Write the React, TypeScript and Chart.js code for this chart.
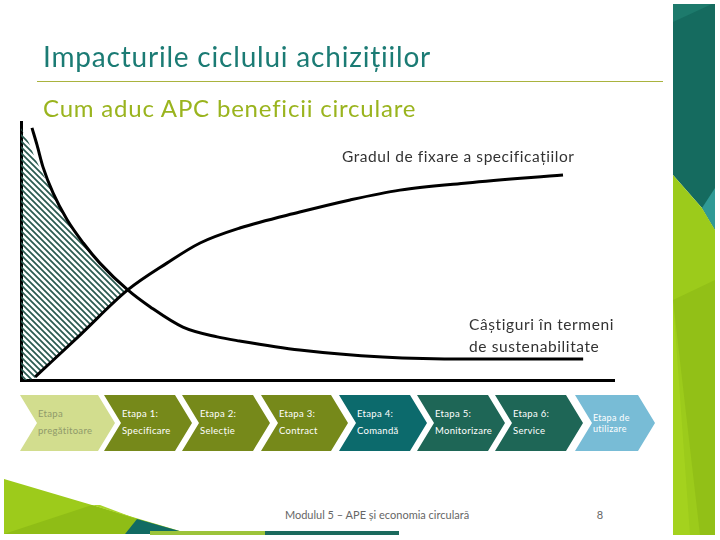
import React, { useEffect, useRef } from "react";
import { Chart, registerables } from "chart.js";

Chart.register(...registerables);

// x: progress through the procurement cycle (0..100), y: relative level (0..100)
const fixationX = [2.4, 9.95, 18.0, 24.6, 30.2, 36.9, 47.0, 55.5, 63.9, 75.2, 91.4];
const fixationY = [1.2, 17.4, 34.9, 45.3, 53.1, 58.9, 65.1, 69.8, 73.6, 76.4, 79.5];

const gainsX = [1.85, 2.7, 3.7, 5.4, 7.8, 10.5, 13.3, 18.0, 21.8, 27.3, 33.1, 36.9, 47.0, 61.0, 75.2, 94.8];
const gainsY = [97.7, 91.1, 82.6, 72.5, 62.0, 53.1, 45.3, 34.9, 28.3, 20.5, 16.7, 15.1, 11.6, 8.9, 8.1, 8.1];

const hatchX = [0, 0.67, 1.35, 2.36, 4.05, 5.73, 7.76, 10.46, 13.32, 15.85, 18.0];
const hatchTopY = [97.7, 94.6, 91.9, 86.0, 78.3, 70.5, 62.0, 53.1, 45.3, 39.5, 34.9];
const hatchBottomY = [0, 0, 0, 0.8, 4.5, 8.1, 12.4, 18.2, 24.6, 30.2, 34.9];

const stageLine1 = ["Etapa", "Etapa 1:", "Etapa 2:", "Etapa 3:", "Etapa 4:", "Etapa 5:", "Etapa 6:", "Etapa de"];
const stageLine2 = ["pregătitoare", "Specificare", "Selecție", "Contract", "Comandă", "Monitorizare", "Service", "utilizare"];
const stageColors = ["#d2dd8e", "#76891a", "#76891a", "#76891a", "#0c6a6c", "#1e6656", "#1e6656", "#78bcd6"];
const stageTextColors = ["#8f9a6a", "#ffffff", "#ffffff", "#ffffff", "#ffffff", "#ffffff", "#ffffff", "#ffffff"];
const stageLeft = [20, 104, 182, 261, 339, 417, 495, 575];
const stageRight = [115, 192, 270, 348, 427, 505, 583, 655];

const toPoints = (xs: number[], ys: number[]) => xs.map((x, i) => ({ x, y: ys[i] }));

function makeHatch(): CanvasPattern | string {
  const s = 6;
  const c = document.createElement("canvas");
  c.width = s;
  c.height = s;
  const g = c.getContext("2d");
  if (!g) return "#2a5a50";
  g.strokeStyle = "#2a5a50";
  g.lineWidth = 1.7;
  g.beginPath();
  g.moveTo(-1, -1);
  g.lineTo(s + 1, s + 1);
  g.moveTo(-1, s - 1);
  g.lineTo(1, s + 1);
  g.moveTo(s - 1, -1);
  g.lineTo(s + 1, 1);
  g.stroke();
  const p = g.createPattern(c, "repeat");
  return p || "#2a5a50";
}

const FONT = "Lato, 'Open Sans', sans-serif";

export default function App() {
  const ref = useRef<HTMLCanvasElement | null>(null);

  useEffect(() => {
    if (!ref.current) return;
    const hatch = makeHatch();
    const axisOpts = {
      type: "linear" as const,
      min: 0,
      max: 100,
      grid: { display: false, drawTicks: false },
      ticks: { display: false },
      border: { display: true, color: "#000000", width: 3 },
    };
    const chart = new Chart(ref.current, {
      type: "line",
      data: {
        datasets: [
          {
            label: "Gradul de fixare a specificațiilor",
            data: toPoints(fixationX, fixationY),
            borderColor: "#000000",
            borderWidth: 3,
            pointRadius: 0,
            tension: 0.4,
            cubicInterpolationMode: "monotone",
            fill: false,
          },
          {
            label: "Câștiguri în termeni de sustenabilitate",
            data: toPoints(gainsX, gainsY),
            borderColor: "#000000",
            borderWidth: 3,
            pointRadius: 0,
            tension: 0.4,
            cubicInterpolationMode: "monotone",
            fill: false,
          },
          {
            label: "hatchTop",
            data: toPoints(hatchX, hatchTopY),
            borderWidth: 0,
            borderColor: "rgba(0,0,0,0)",
            pointRadius: 0,
            tension: 0,
            backgroundColor: hatch as any,
            fill: 3,
          },
          {
            label: "hatchBottom",
            data: toPoints(hatchX, hatchBottomY),
            borderWidth: 0,
            borderColor: "rgba(0,0,0,0)",
            pointRadius: 0,
            tension: 0,
            fill: false,
          },
        ],
      },
      options: {
        animation: false,
        responsive: false,
        maintainAspectRatio: false,
        layout: { padding: { left: 21, right: 106, top: 122, bottom: 160 } },
        plugins: {
          legend: { display: false },
          tooltip: { enabled: false },
        },
        scales: { x: axisOpts, y: axisOpts },
      },
    });
    return () => chart.destroy();
  }, []);

  const chevron = (i: number) => {
    const L = stageLeft[i];
    const R = stageRight[i];
    const D = 17;
    const top = 395;
    const bot = 451;
    const mid = 423;
    const pts = `${L},${top} ${R - D},${top} ${R},${mid} ${R - D},${bot} ${L},${bot} ${L + D},${mid}`;
    const last = i === stageLeft.length - 1;
    return (
      <g key={i}>
        <polygon points={pts} fill={stageColors[i]} />
        <text
          x={L + 18}
          y={last ? 421 : 417}
          fontFamily={FONT}
          fontSize={last ? 9 : 9.5}
          letterSpacing={0.3}
          fill={stageTextColors[i]}
        >
          {stageLine1[i]}
        </text>
        <text
          x={L + 18}
          y={last ? 432 : 434}
          fontFamily={FONT}
          fontSize={last ? 9 : 9.5}
          letterSpacing={0.3}
          fill={stageTextColors[i]}
        >
          {stageLine2[i]}
        </text>
      </g>
    );
  };

  return (
    <div
      style={{
        position: "absolute",
        left: 0,
        top: 0,
        width: 720,
        height: 540,
        overflow: "hidden",
        background: "#ffffff",
        fontFamily: FONT,
      }}
    >
      <svg width={720} height={540} style={{ position: "absolute", left: 0, top: 0 }}>
        {/* right decorative strip */}
        <polygon points="673,4 715,4 715,230 702,208 673,175" fill="#156b5f" />
        <polygon points="673,4 712,4 673,22" fill="#1d7a6c" />
        <polygon points="715,188 715,230 702,208" fill="#2f9a95" />
        <polygon points="673,175 702,208 715,230 715,535 673,535" fill="#9ccb1b" />
        <polygon points="673,300 715,280 715,535 700,535" fill="#92c017" />
        <polygon points="673,300 690,535 673,535" fill="#a4d21e" />
        {/* title rule */}
        <line x1={37} y1={81.5} x2={663} y2={81.5} stroke="#a9b33e" strokeWidth={1} />
        {/* bottom-left decoration */}
        <polygon points="4,479 190,534 4,534" fill="#9dcb1b" />
        <polygon points="4,534 92,505 137,519 125,534" fill="#8fbd16" />
        <polygon points="92,505 100,505 137,519" fill="#a8d428" />
        <polygon points="137,519 190,534 125,534" fill="#116b63" />
        {/* bottom bar */}
        <rect x={150} y={531} width={115} height={4} fill="#9cc43a" />
        <rect x={265} y={531} width={134} height={4} fill="#1b6a5d" />
        {/* stages */}
        {stageLeft.map((_, i) => chevron(i))}
        <text x={377} y={519} textAnchor="middle" fontFamily={FONT} fontSize={11} fill="#666666">
          Modulul 5 – APE și economia circulară
        </text>
        <text x={600} y={519} textAnchor="middle" fontFamily={FONT} fontSize={11} fill="#666666">
          8
        </text>
      </svg>
      <canvas
        ref={ref}
        width={720}
        height={540}
        style={{ position: "absolute", left: 0, top: 0, width: 720, height: 540 }}
      />
      <div
        style={{
          position: "absolute",
          left: 43,
          top: 42,
          fontSize: 28,
          lineHeight: "28px",
          letterSpacing: 0.8,
          color: "#1b7b74",
          whiteSpace: "nowrap",
        }}
      >
        Impacturile ciclului achizițiilor
      </div>
      <div
        style={{
          position: "absolute",
          left: 43,
          top: 96,
          fontSize: 24,
          lineHeight: "24px",
          letterSpacing: 0.8,
          color: "#9ab41e",
          whiteSpace: "nowrap",
        }}
      >
        Cum aduc APC beneficii circulare
      </div>
      <div
        style={{
          position: "absolute",
          left: 342,
          top: 148,
          fontSize: 15.5,
          lineHeight: "16px",
          letterSpacing: 0.55,
          color: "#333333",
          whiteSpace: "nowrap",
        }}
      >
        Gradul de fixare a specificațiilor
      </div>
      <div
        style={{
          position: "absolute",
          left: 469,
          top: 313,
          fontSize: 15.5,
          lineHeight: "22px",
          letterSpacing: 0.6,
          color: "#333333",
          whiteSpace: "nowrap",
        }}
      >
        Câștiguri în termeni
        <br />
        de sustenabilitate
      </div>
    </div>
  );
}
